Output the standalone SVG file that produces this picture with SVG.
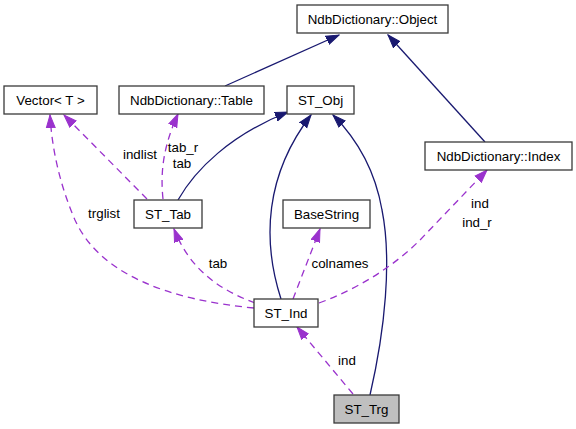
<svg xmlns="http://www.w3.org/2000/svg" width="576" height="429" viewBox="0 0 576 429">
<style>
.node rect{fill:#ffffff;stroke:#3a3a3a;stroke-width:1.3}
.node.cur rect{fill:#bfbfbf}
text{font-family:"Liberation Sans",Arial,sans-serif;font-size:13.33px;fill:#000;text-anchor:middle}
.inh{fill:none;stroke:#191970;stroke-width:1.3;marker-end:url(#ah)}
.use{fill:none;stroke:#9a32cd;stroke-width:1.3;stroke-dasharray:7,5;marker-end:url(#au)}
</style>
<defs>
<marker id="ah" markerUnits="userSpaceOnUse" markerWidth="14" markerHeight="11" refX="13" refY="5" orient="auto" viewBox="0 0 14 10">
<path d="M0,0.5 L13,5 L0,9.5 z" fill="#191970" stroke="#191970" stroke-width="1"/>
</marker>
<marker id="au" markerUnits="userSpaceOnUse" markerWidth="14" markerHeight="11" refX="13" refY="5" orient="auto" viewBox="0 0 14 10">
<path d="M0,0.5 L13,5 L0,9.5 z" fill="#9a32cd" stroke="#9a32cd" stroke-width="1"/>
</marker>
</defs>
<g id="edges">
<path class="inh" d="M225,86 L339,35"/>
<path class="inh" d="M485,142 L388,35"/>
<path class="inh" d="M178,200 C195,170 230,135 288,112"/>
<path class="inh" d="M281,299 C262,240 265,175 311,115"/>
<path class="inh" d="M370,395 C385,330 392,260 382,210 C375,170 358,140 333,115"/>
<path class="use" d="M147,199 L64,115"/>
<path class="use" d="M163,199 C160,170 164,145 178,114"/>
<path class="use" d="M254,308 C170,300 100,275 75,220 C60,185 52,150 50,115"/>
<path class="use" d="M255,303 C220,290 190,270 174,229"/>
<path class="use" d="M293,299 L320,229"/>
<path class="use" d="M319,303 C360,288 395,265 420,240 L487,170"/>
<path class="use" d="M353,394 L297,327"/>
<text x="140" y="159">indlist</text>
<text x="183" y="151.5">tab_r</text>
<text x="182" y="168">tab</text>
<text x="104" y="218">trglist</text>
<text x="218" y="268">tab</text>
<text x="340" y="268">colnames</text>
<text x="480" y="208">ind</text>
<text x="477" y="227">ind_r</text>
<text x="347" y="365">ind</text>
</g>
<g id="node-object" class="node"><rect x="297" y="5" width="151" height="28"/><text x="372.5" y="23.5">NdbDictionary::Object</text></g>
<g id="node-table" class="node"><rect x="119" y="86" width="145" height="28"/><text x="191.5" y="104.5">NdbDictionary::Table</text></g>
<g id="node-vector" class="node"><rect x="4" y="86" width="93" height="28"/><text x="50.5" y="104.5">Vector&lt; T &gt;</text></g>
<g id="node-stobj" class="node"><rect x="287" y="86" width="67" height="28"/><text x="320.5" y="104.5">ST_Obj</text></g>
<g id="node-index" class="node"><rect x="425" y="142" width="147" height="28"/><text x="498.5" y="160.5">NdbDictionary::Index</text></g>
<g id="node-basestring" class="node"><rect x="283" y="200" width="87" height="28"/><text x="326.5" y="218.5">BaseString</text></g>
<g id="node-sttab" class="node"><rect x="134" y="200" width="68" height="28"/><text x="168" y="218.5">ST_Tab</text></g>
<g id="node-stind" class="node"><rect x="254" y="299" width="64" height="28"/><text x="286" y="317.5">ST_Ind</text></g>
<g id="node-sttrg" class="node cur"><rect x="334" y="395" width="65" height="28"/><text x="366.5" y="413.5">ST_Trg</text></g>
</svg>
